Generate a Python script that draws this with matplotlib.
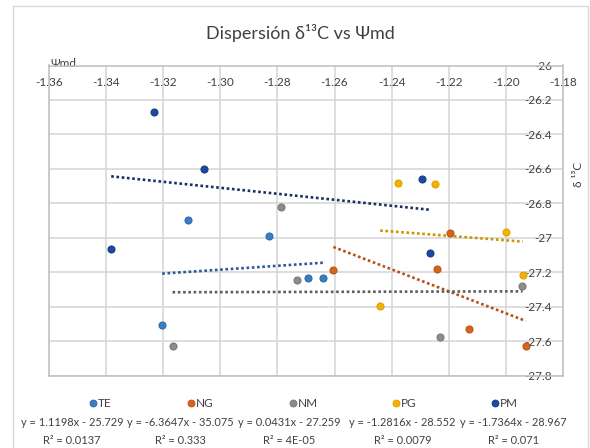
import matplotlib
matplotlib.use("Agg")
import matplotlib.pyplot as plt
import numpy as np
from matplotlib.lines import Line2D
from matplotlib.patches import Rectangle

FONT = ['Lato', 'DejaVu Sans']
plt.rcParams['font.family'] = FONT

# series data
series = ['TE', 'NG', 'NM', 'PG', 'PM']
te_x = [-1.3113, -1.2828, -1.3204, -1.2692, -1.2640]
te_y = [-26.897, -26.987, -27.508, -27.234, -27.234]
ng_x = [-1.2604, -1.2194, -1.2241, -1.2130, -1.1930]
ng_y = [-27.186, -26.973, -27.180, -27.528, -27.630]
nm_x = [-1.2786, -1.2730, -1.3168, -1.2229, -1.1941]
nm_y = [-26.822, -27.247, -27.630, -27.574, -27.282]
pg_x = [-1.2377, -1.2248, -1.2000, -1.1940, -1.2440]
pg_y = [-26.679, -26.687, -26.967, -27.213, -27.398]
pm_x = [-1.3232, -1.3056, -1.3383, -1.2293, -1.2264]
pm_y = [-26.268, -26.602, -27.064, -26.658, -27.089]

# trendline coefficients and labels
slopes = [1.1198, -6.3647, 0.0431, -1.2816, -1.7364]
intercepts = [-25.729, -35.075, -27.259, -28.552, -28.967]
eq_labels = ['y = 1.1198x - 25.729', 'y = -6.3647x - 35.075', 'y = 0.0431x - 27.259',
             'y = -1.2816x - 28.552', 'y = -1.7364x - 28.967']
r2_labels = ['R² = 0.0137', 'R² = 0.333', 'R² = 4E-05', 'R² = 0.0079', 'R² = 0.071']

x_ticks = [-1.36, -1.34, -1.32, -1.30, -1.28, -1.26, -1.24, -1.22, -1.20, -1.18]
y_ticks = [-26, -26.2, -26.4, -26.6, -26.8, -27, -27.2, -27.4, -27.6, -27.8]
y_tick_labels = ['-26', '-26.2', '-26.4', '-26.6', '-26.8', '-27', '-27.2', '-27.4', '-27.6', '-27.8']

xs = [te_x, ng_x, nm_x, pg_x, pm_x]
ys = [te_y, ng_y, nm_y, pg_y, pm_y]
colors = ['#3A7EC2', '#D5651C', '#8C8C8C', '#F2B300', '#1D4A9C']
edges = ['#2C67A6', '#B8520F', '#767676', '#D99E00', '#153A80']
trend_colors = ['#2B5A96', '#B5501A', '#5E5E5E', '#C99600', '#1B2F66']
txt_c = '#404040'

fig = plt.figure(figsize=(5.9, 4.48), dpi=100)
ax = fig.add_axes([49.3 / 590, 1 - 375.7 / 448, (562.7 - 49.3) / 590, (375.7 - 65.5) / 448])

grid_c = '#D4D4D4'
for i in range(len(series)):
    ax.scatter(xs[i], ys[i], s=26, color=colors[i], edgecolors=edges[i], linewidths=0.7, zorder=3)
    xx = np.array([min(xs[i]), max(xs[i])])
    ax.plot(xx, slopes[i] * xx + intercepts[i], color=trend_colors[i], lw=1.9,
            linestyle=(0, (1, 1)), zorder=2)

ax.set_xlim(-1.36, -1.18)
ax.set_ylim(-27.8, -26)
ax.set_xticks(x_ticks)
ax.set_xticklabels(['%.2f' % v for v in x_ticks])
ax.set_yticks(y_ticks)
ax.set_yticklabels(y_tick_labels)
ax.grid(True, color=grid_c, lw=1.1)
ax.set_axisbelow(True)
for s in ax.spines.values():
    s.set_color('#BFBFBF')
    s.set_linewidth(1.1)

ax.tick_params(axis='x', top=True, labeltop=True, bottom=False, labelbottom=False,
               length=0, pad=-16.5, labelsize=8.5, labelcolor=txt_c)
ax.tick_params(axis='y', right=True, labelright=True, left=False, labelleft=False,
               length=0, pad=-7.7, labelsize=8.5, labelcolor=txt_c)
for t in ax.yaxis.get_major_ticks():
    t.label2.set_horizontalalignment('right')

ax.set_xlabel('Ψmd', fontsize=8.5, color=txt_c, ha='left', va='bottom')
ax.xaxis.set_label_coords(0.002, 0.99)
ax.set_ylabel('δ ¹³C', fontsize=8.5, color=txt_c, rotation=90, va='center', ha='center')
ax.yaxis.set_label_position('right')
ax.yaxis.set_label_coords(1.021, 0.65)

fig.text(300 / 590, 1 - 33 / 448, 'Dispersión δ¹³C vs Ψmd', fontsize=13, color=txt_c,
         ha='center', va='center')

# legend
marker_px = [93.3, 190.7, 293.3, 396.0, 495.0]
col_px = [72, 180.5, 289, 402.5, 513.5]
for i in range(len(series)):
    fig.add_artist(Line2D([marker_px[i] / 590], [1 - 403 / 448], transform=fig.transFigure,
                          marker='o', markersize=5, color=colors[i], markeredgecolor=edges[i],
                          markeredgewidth=0.6, linestyle='none'))
    fig.text((marker_px[i] + 5) / 590, 1 - 403 / 448, series[i], fontsize=8.5, color=txt_c,
             ha='left', va='center')
    fig.text(col_px[i] / 590, 1 - 422 / 448, eq_labels[i], fontsize=7.9, color=txt_c,
             ha='center', va='center')
    fig.text(col_px[i] / 590, 1 - 440 / 448, r2_labels[i], fontsize=7.9, color=txt_c,
             ha='center', va='center')

fig.add_artist(Rectangle((13 / 590, -0.01), (588 - 13) / 590, 1 - 6 / 448 + 0.01,
                         transform=fig.transFigure, fill=False, edgecolor='#D9D9D9', lw=1))

fig.savefig('out.png', dpi=100)
